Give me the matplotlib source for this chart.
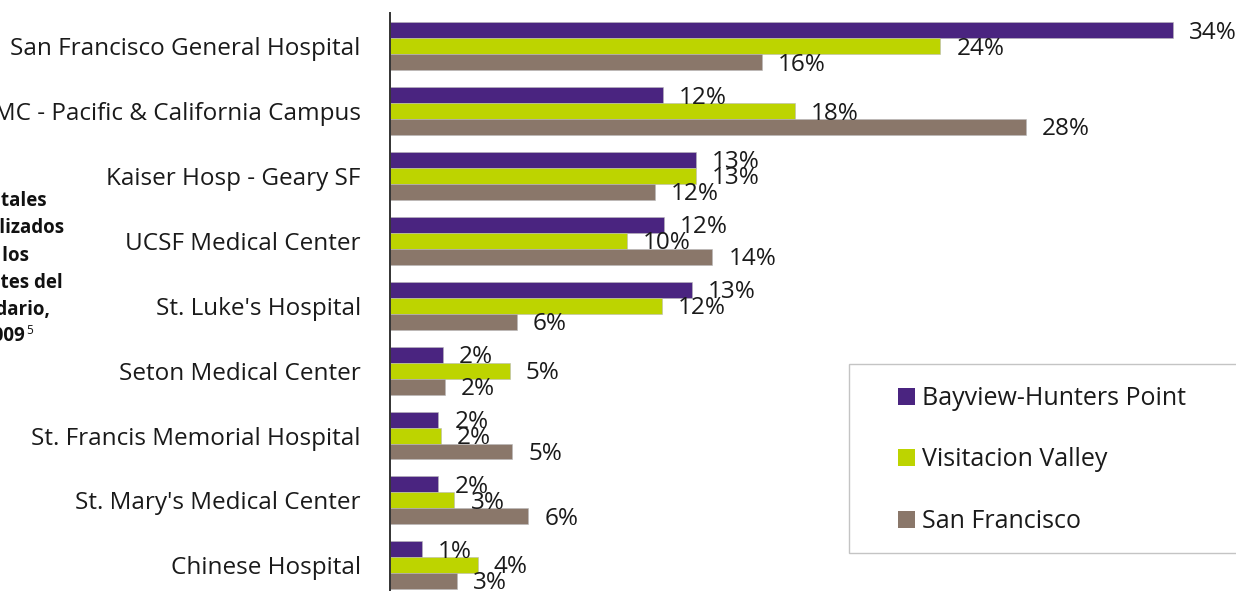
import matplotlib
matplotlib.use("Agg")
import matplotlib.pyplot as plt
from matplotlib.patches import Patch, Rectangle
import numpy as np

hospitals = [
    "San Francisco General Hospital",
    "CPMC - Pacific & California Campus",
    "Kaiser Hosp - Geary SF",
    "UCSF Medical Center",
    "St. Luke's Hospital",
    "Seton Medical Center",
    "St. Francis Memorial Hospital",
    "St. Mary's Medical Center",
    "Chinese Hospital",
]
series_names = ["Bayview-Hunters Point", "Visitacion Valley", "San Francisco"]
bayview = [34.0, 11.85, 13.3, 11.9, 13.1, 2.3, 2.1, 2.1, 1.4]
visitacion = [23.9, 17.6, 13.3, 10.3, 11.8, 5.2, 2.2, 2.8, 3.8]
san_francisco = [16.15, 27.6, 11.5, 14.0, 5.5, 2.4, 5.3, 6.0, 2.9]
title_lines = ["Hospitales", "utilizados", "por los", "residentes del", "vecindario,", "2009"]
title_note = "5"

colors = ["#4a2480", "#bdd400", "#8a776a"]
FONT = "Open Sans"
plt.rcParams["font.family"] = [FONT, "DejaVu Sans"]

W, H, DPI = 1236, 591, 100
fig = plt.figure(figsize=(W / DPI, H / DPI), dpi=DPI)

px_per_pct = 783 / 34.0
ax_left, ax_right = 390, 1236
ax_top, ax_bottom = 12.7, 599
ax = fig.add_axes([ax_left / W, (H - ax_bottom) / H, (ax_right - ax_left) / W, (ax_bottom - ax_top) / H])
ax.set_xlim(0, (ax_right - ax_left) / px_per_pct)
ax.set_ylim(8.52, -0.52)

y = np.arange(len(hospitals))
bh = 0.246
offsets = [-bh, 0, bh]
all_series = [bayview, visitacion, san_francisco]
for vals, off, col, name in zip(all_series, offsets, colors, series_names):
    ax.barh(y + off, vals, height=bh, color=col, edgecolor="#b8b8b8", linewidth=0.4, label=name)
    for yi, v in zip(y, vals):
        ax.annotate(f"{v:.0f}%", xy=(v, yi + off), xytext=(11.5, -1.6), textcoords="offset points",
                    ha="left", va="center", fontsize=17.5, color="#1a1a1a", annotation_clip=False)

ax.set_yticks(y)
ax.set_yticklabels(hospitals, fontsize=17.5, color="#1a1a1a")
ax.tick_params(axis="y", length=0, pad=21)
ax.set_xticks([])
for s in ["top", "right", "bottom"]:
    ax.spines[s].set_visible(False)
ax.spines["left"].set_color("#333333")
ax.spines["left"].set_linewidth(1.4)

# left title block (partly cut off at the figure's left edge)
title_right = [47, 65, 29, 63, 50, 25]
title_y = [201, 228, 256, 283, 310, 336]
for txt, xr, yy in zip(title_lines, title_right, title_y):
    fig.text(xr / W, (H - yy) / H, txt, ha="right", va="center", fontsize=13.5,
             fontweight="bold", color="#111111")
fig.text(26 / W, (H - 331) / H, title_note, ha="left", va="center", fontsize=8.5, color="#111111")

# legend frame
fig.patches.append(Rectangle((849 / W, (H - 553) / H), (1250 - 849) / W, (553 - 364) / H,
                             transform=fig.transFigure, facecolor="white", edgecolor="#c4c4c4",
                             linewidth=1.0, zorder=5))
handles = [Patch(facecolor=c, edgecolor="none") for c in colors]
leg = fig.legend(handles, series_names, loc="upper left", bbox_to_anchor=(898 / W, (H - 386) / H),
                 frameon=False, fontsize=18, handlelength=0.68, handleheight=0.68,
                 handletextpad=0.28, labelspacing=1.46, borderpad=0, borderaxespad=0)
leg.set_zorder(6)
for t in leg.get_texts():
    t.set_color("#1a1a1a")

fig.savefig("out.png", dpi=DPI)
